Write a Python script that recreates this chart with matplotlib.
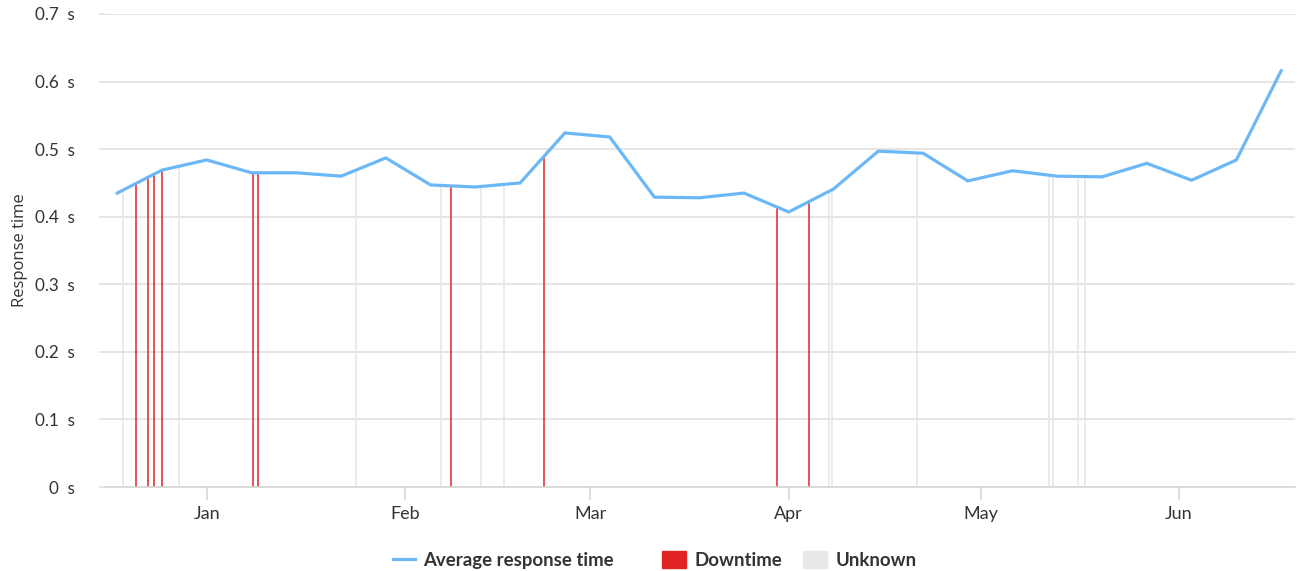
import numpy as np
import pandas as pd
import matplotlib
matplotlib.use("Agg")
import matplotlib.pyplot as plt
import matplotlib.dates as mdates
from matplotlib.lines import Line2D
from matplotlib.patches import Patch
from matplotlib.ticker import FuncFormatter

plt.rcParams['font.family'] = ['Lato', 'DejaVu Sans']

# weekly average response time (seconds)
week_start = "2023-12-18"
avg_response = [0.435, 0.469, 0.484, 0.465, 0.465, 0.460, 0.487, 0.447, 0.444,
                0.450, 0.524, 0.518, 0.429, 0.428, 0.435, 0.407, 0.441, 0.497,
                0.494, 0.453, 0.468, 0.460, 0.459, 0.479, 0.454, 0.484, 0.616]

downtime = ["2023-12-20 23:00", "2023-12-22 19:00", "2023-12-23 18:00",
            "2023-12-25 00:00", "2024-01-08 04:00", "2024-01-08 23:00",
            "2024-02-08 04:00", "2024-02-22 16:00", "2024-03-30 03:00",
            "2024-04-04 03:00"]

unknown = ["2023-12-18 22:00", "2023-12-27 15:00", "2024-01-24 08:00",
           "2024-02-06 14:00", "2024-02-12 20:00", "2024-02-16 10:00",
           "2024-04-07 09:00", "2024-04-07 20:00", "2024-04-21 01:00",
           "2024-05-11 18:00", "2024-05-12 09:00", "2024-05-16 06:00",
           "2024-05-17 08:00"]

weeks = pd.date_range(week_start, periods=len(avg_response), freq="7D")
xw = mdates.date2num(weeks)

LINE_C = "#6cb8f6"
RED = "#e02424"
GREY = "#e8e8e8"
TXT = "#333333"

fig = plt.figure(figsize=(13, 5.71), dpi=100)
ax = fig.add_axes([105 / 1300, (571 - 487) / 571, 1190 / 1300, 473 / 571])

for d in unknown:
    x = mdates.date2num(pd.Timestamp(d))
    ax.vlines(x, 0, np.interp(x, xw, avg_response), color=GREY, lw=1.2, zorder=1)
for d in downtime:
    x = mdates.date2num(pd.Timestamp(d))
    ax.vlines(x, 0, np.interp(x, xw, avg_response), color=RED, lw=1.1, zorder=2)

ax.plot(weeks, avg_response, color=LINE_C, lw=2.3, zorder=3, solid_joinstyle='miter')

ax.set_ylim(0, 0.7)
ax.set_xlim(pd.Timestamp("2023-12-16 02:00"), pd.Timestamp("2024-06-19 04:00"))
ax.set_yticks(np.arange(0, 0.71, 0.1))
ax.yaxis.set_major_formatter(FuncFormatter(lambda v, p: "0  s" if v == 0 else f"{v:.1f}  s"))
ax.xaxis.set_major_locator(mdates.MonthLocator())
ax.xaxis.set_major_formatter(mdates.DateFormatter("%b"))

ax.grid(axis='y', color="#e0e0e0", lw=1.2)
ax.set_axisbelow(True)
for s in ["top", "right", "left"]:
    ax.spines[s].set_visible(False)
ax.spines["bottom"].set_color("#d6d6d6")
ax.spines["bottom"].set_linewidth(1.2)
ax.tick_params(axis='y', length=4, color="#e0e0e0", width=1.2, labelsize=12.3,
               labelcolor=TXT, pad=18)
ax.tick_params(axis='x', length=9, color="#d6d6d6", width=1.2, labelsize=13,
               labelcolor=TXT, pad=5)
ax.set_ylabel("Response time", fontsize=12, color=TXT, labelpad=5, family="Open Sans")

# legend items placed individually (uneven gaps as in the original)
items = [(Line2D([0], [0], color=LINE_C, lw=2.3), "Average response time", 393, 1.18),
         (Patch(facecolor=RED, edgecolor=RED), "Downtime", 662, 1.29),
         (Patch(facecolor=GREY, edgecolor=GREY), "Unknown", 803, 1.29)]
for h, lab, x0, hl in items:
    leg = fig.legend([h], [lab], loc="center left", bbox_to_anchor=(x0 / 1300, 1 - 560 / 571),
                     frameon=False, borderpad=0, borderaxespad=0, handlelength=hl,
                     handleheight=0.97, handletextpad=0.45,
                     prop={'weight': 'bold', 'size': 13.4})
    for t in leg.get_texts():
        t.set_color(TXT)

fig.savefig("out.png", dpi=100)
